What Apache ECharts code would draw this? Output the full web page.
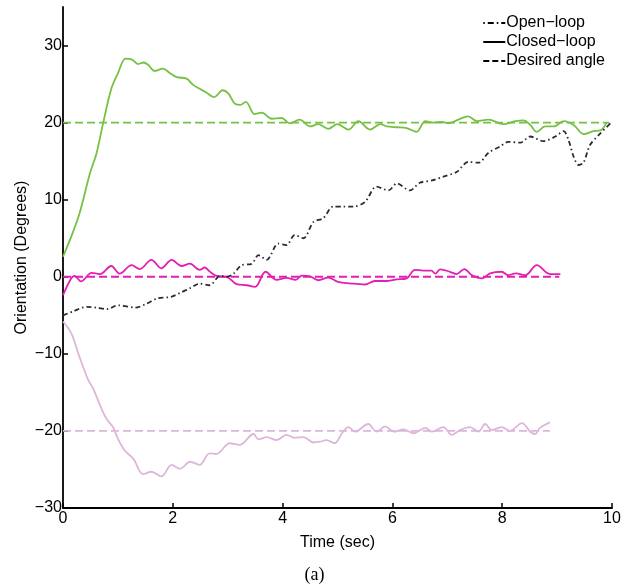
<!DOCTYPE html>
<html>
<head>
<meta charset="UTF-8">
<title>Orientation</title>
<script src="https://cdn.jsdelivr.net/npm/echarts@6/dist/echarts.min.js"></script>
<style type="text/css">
   html, body{ margin:0; padding:0; background:#ffffff; }
   #container{ width:629px; height:585px; }
</style>
</head>
<body>
<div id="container"></div>
<script type="text/javascript">
// values, [time (sec), angle (deg)]
var openLoop = [[0,-5.0],[0.18,-4.5],[0.43,-3.9],[0.61,-4.0],[0.80,-4.2],[1.0,-3.7],[1.32,-4.0],[1.52,-3.5],[1.72,-2.8],[1.97,-2.6],[2.13,-2.1],[2.31,-1.5],[2.49,-0.9],[2.67,-1.1],[2.86,0.1],[2.98,0],[3.10,0.35],[3.25,1.5],[3.44,1.7],[3.56,2.8],[3.71,2.2],[3.92,4.3],[4.07,4.1],[4.22,5.4],[4.38,5.0],[4.56,7.1],[4.74,7.6],[4.92,9.1],[5.11,9.1],[5.29,9.1],[5.50,9.7],[5.71,11.7],[5.93,11.2],[6.08,12.1],[6.32,11.2],[6.50,12.2],[6.72,12.5],[6.93,13.0],[7.17,13.6],[7.38,14.9],[7.57,14.8],[7.75,16.1],[7.96,16.9],[8.11,17.5],[8.33,17.4],[8.51,18.2],[8.75,17.6],[8.97,18.2],[9.12,18.9],[9.21,17.7],[9.30,15.6],[9.39,14.5],[9.48,14.8],[9.60,17.1],[9.76,18.4],[9.97,19.9]];

var closedUp = [[0,2.6],[0.15,5.2],[0.3,8.2],[0.49,13.4],[0.61,16],[0.73,19.9],[0.88,24.4],[1.0,26.4],[1.14,28.3],[1.25,28.2],[1.37,27.6],[1.47,27.8],[1.55,27.5],[1.67,26.7],[1.82,27.0],[1.95,26.4],[2.07,25.9],[2.25,25.7],[2.37,24.9],[2.49,24.4],[2.61,23.9],[2.75,23.3],[2.91,24.2],[3.01,23.8],[3.14,22.4],[3.23,22.3],[3.33,22.7],[3.49,21.1],[3.62,21.3],[3.80,20.5],[3.98,20.6],[4.13,19.9],[4.31,20.4],[4.50,19.5],[4.65,19.8],[4.83,19.2],[5.0,19.8],[5.20,19.1],[5.38,20.2],[5.59,19.1],[5.78,19.8],[5.90,19.5],[6.08,19.4],[6.26,19.3],[6.44,18.8],[6.60,20.2],[6.75,20.0],[6.90,20.1],[7.02,19.9],[7.20,20.4],[7.38,20.8],[7.54,20.2],[7.75,20.4],[8.02,19.8],[8.24,20.2],[8.39,20.3],[8.51,19.7],[8.63,18.8],[8.78,19.5],[8.94,19.5],[9.12,20.2],[9.30,19.7],[9.49,18.5],[9.66,18.9],[9.79,19.0],[9.90,20.0]];

var closedZero = [[0,-2.4],[0.15,-0.2],[0.21,0.1],[0.33,-0.6],[0.52,0.5],[0.67,0.35],[0.88,1.4],[1.03,0.4],[1.25,1.5],[1.40,1.0],[1.61,2.2],[1.79,1.1],[1.98,2.2],[2.16,1.4],[2.31,1.7],[2.49,0.9],[2.58,1.2],[2.67,0.7],[2.80,0.1],[2.98,0],[3.16,-0.95],[3.35,-1.1],[3.50,-1.3],[3.69,0.65],[3.89,-0.4],[4.07,-0.15],[4.24,-0.4],[4.35,0.15],[4.5,0.05],[4.65,-0.45],[4.83,-0.1],[5.01,-0.65],[5.23,-0.85],[5.50,-1.0],[5.68,-0.55],[5.88,-0.55],[6.08,-0.35],[6.26,-0.2],[6.41,0.9],[6.56,0.8],[6.71,0.8],[6.78,0.4],[6.87,0.95],[7.05,0.65],[7.17,0.35],[7.31,1.0],[7.45,0.2],[7.63,-0.2],[7.78,0.45],[7.99,0.65],[8.11,0.2],[8.25,0.45],[8.42,0.2],[8.63,1.5],[8.87,0.35],[9.06,0.35]];

var closedDown = [[0,-5.8],[0.15,-7.3],[0.30,-10.4],[0.46,-13.4],[0.55,-14.5],[0.67,-16.6],[0.79,-18.4],[0.91,-19.5],[1.0,-21.0],[1.12,-22.5],[1.28,-23.6],[1.46,-25.6],[1.61,-25.3],[1.79,-25.9],[1.98,-24.4],[2.13,-24.9],[2.32,-24.0],[2.49,-24.4],[2.67,-22.9],[2.79,-23.0],[3.04,-21.6],[3.22,-21.8],[3.47,-20.4],[3.56,-21.1],[3.71,-20.8],[3.89,-21.2],[4.07,-20.5],[4.22,-20.9],[4.38,-20.8],[4.56,-21.5],[4.68,-21.4],[4.80,-21.2],[4.95,-21.6],[5.08,-20.3],[5.20,-19.5],[5.32,-20.1],[5.56,-19.1],[5.71,-20.1],[5.87,-19.4],[6.03,-20.1],[6.20,-19.8],[6.38,-20.3],[6.60,-19.6],[6.72,-20.1],[6.93,-19.5],[7.08,-20.5],[7.23,-19.9],[7.41,-19.5],[7.57,-20.1],[7.69,-19.1],[7.81,-19.9],[7.99,-19.5],[8.14,-20.0],[8.36,-19.0],[8.51,-20.1],[8.60,-20.4],[8.69,-19.6],[8.87,-18.9]];

var desiredUp = [[0,20],[9.95,20]];
var desiredZero = [[0,0],[9.04,0]];
var desiredDown = [[0,-20],[8.87,-20]];

var xTicks = [0,2,4,6,8,10];
var yTicks = [-30,-20,-10,0,10,20,30];
var legendNames = ['Open\u2212loop','Closed\u2212loop','Desired angle'];

var FONT = 'Liberation Sans';
var GREEN = '#76c043', MAGENTA = '#e21fb2', PINK = '#dcb7da', DARK = '#2b2a36';

function minus(v){ return String(v).replace('-', '\u2212'); }

var dom = document.getElementById("container");
var myChart = echarts.init(dom, null, {renderer:'canvas'});

function solid(data, color){
    return { type:'line', data:data, showSymbol:false, symbol:'none', smooth:0.35,
             lineStyle:{ color:color, width:1.8 }, itemStyle:{ color:color }, z:3 };
}
function dashed(data, color){
    return { type:'line', data:data, showSymbol:false, symbol:'none',
             lineStyle:{ color:color, width:1.8, type:[8,4] }, itemStyle:{ color:color }, z:2 };
}

var option = {
    animation:false,
    textStyle:{ fontFamily:FONT },
    title:{
        text:'(a)', left:'center', top:561,
        textStyle:{ fontFamily:'Liberation Serif', fontSize:18, fontWeight:'normal', color:'#000' }
    },
    legend:{
        data:legendNames, orient:'vertical', right:19, top:10,
        itemWidth:22, itemHeight:2, itemGap:3,
        itemStyle:{ opacity:0 },
        textStyle:{ fontFamily:FONT, fontSize:16, color:'#000', padding:[0,0,0,-4] }
    },
    grid:{ left:63, right:17, top:7, bottom:77, containLabel:false },
    xAxis:{
        type:'value', min:0, max:10, interval:2,
        name:'Time (sec)', nameLocation:'middle', nameGap:27,
        nameTextStyle:{ fontFamily:FONT, fontSize:16, color:'#000' },
        axisLine:{ onZero:false, lineStyle:{ color:'#000', width:1.8 } },
        axisTick:{ inside:true, length:5, lineStyle:{ color:'#000', width:1.5 }, customValues:xTicks },
        axisLabel:{ fontFamily:FONT, fontSize:16, color:'#000', margin:3, customValues:xTicks },
        splitLine:{ show:false }
    },
    yAxis:{
        type:'value', min:-30, max:35, interval:10,
        name:'Orientation (Degrees)', nameLocation:'middle', nameGap:33, nameMoveOverlap:false,
        nameTextStyle:{ fontFamily:FONT, fontSize:16, color:'#000' },
        axisLine:{ show:true, onZero:false, lineStyle:{ color:'#000', width:1.8 } },
        axisTick:{ show:true, inside:true, length:5, lineStyle:{ color:'#000', width:1.5 }, customValues:yTicks },
        axisLabel:{ fontFamily:FONT, fontSize:16, color:'#000', margin:1, customValues:yTicks,
                    formatter:function(v){ return minus(v); } },
        splitLine:{ show:false }
    },
    series:[
        dashed(desiredDown, PINK),
        dashed(desiredZero, MAGENTA),
        dashed(desiredUp, GREEN),
        solid(closedDown, PINK),
        solid(closedZero, MAGENTA),
        solid(closedUp, GREEN),
        { type:'line', data:openLoop, showSymbol:false, symbol:'none', smooth:0.3, z:4,
          lineStyle:{ color:DARK, width:1.8, type:[5,3,1.5,3] }, itemStyle:{ color:DARK } },
        // black entries for the legend only
        { name:legendNames[0], type:'line', data:[], symbol:'none',
          lineStyle:{ color:'#000', width:1.8, type:[1.5,3,6,3] }, itemStyle:{ color:'#000' } },
        { name:legendNames[1], type:'line', data:[], symbol:'none',
          lineStyle:{ color:'#000', width:1.8 }, itemStyle:{ color:'#000' } },
        { name:legendNames[2], type:'line', data:[], symbol:'none',
          lineStyle:{ color:'#000', width:1.8, type:[6,3] }, itemStyle:{ color:'#000' } }
    ]
};
myChart.setOption(option, true);
</script>
</body>
</html>
